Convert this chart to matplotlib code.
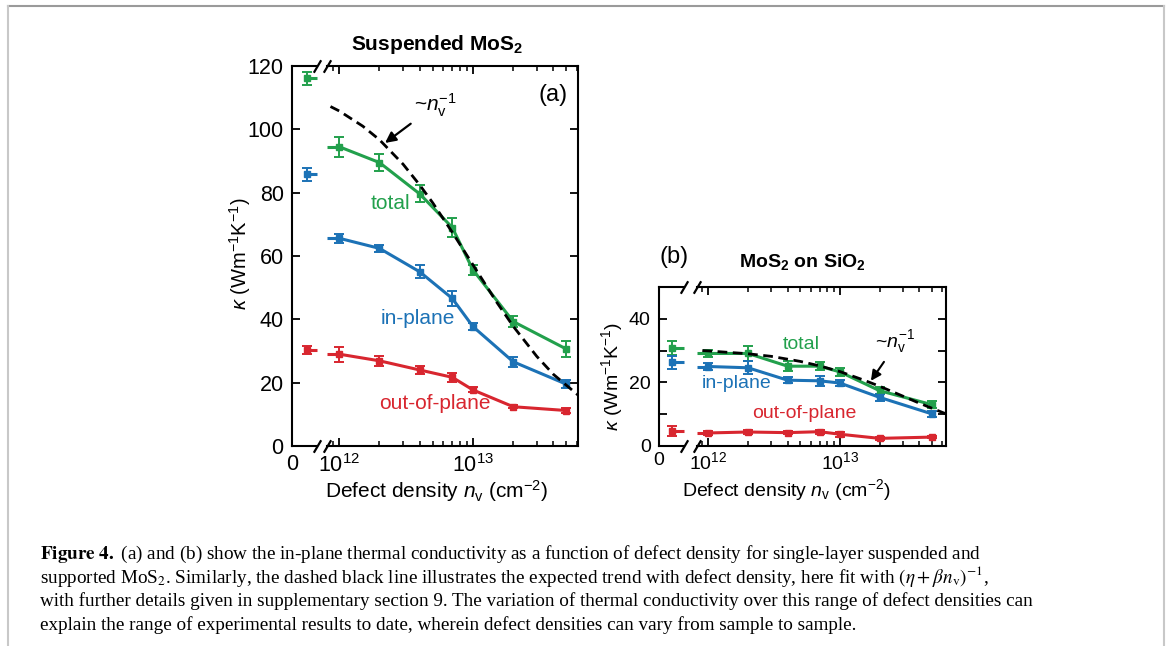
import matplotlib
matplotlib.use('Agg')
import matplotlib.pyplot as plt
from matplotlib.lines import Line2D
from matplotlib.ticker import LogLocator, NullFormatter, LogFormatterMathtext, FixedLocator

plt.rcParams['font.family'] = ['Liberation Sans', 'DejaVu Sans']
plt.rcParams['mathtext.fontset'] = 'custom'
plt.rcParams['mathtext.rm'] = 'Liberation Sans'
plt.rcParams['mathtext.it'] = 'Liberation Sans:italic'
plt.rcParams['mathtext.bf'] = 'Liberation Sans:bold'

# ---- data -------------------------------------------------------------
n_def = [1e12, 2e12, 4e12, 7e12, 1e13, 2e13, 5e13]   # defect density (cm^-2)

# (a) suspended MoS2 ; pristine values are [total, in-plane, out-of-plane]
susp_pristine = [116.1, 85.8, 30.3]
susp_pristine_err = [2.1, 2.1, 1.2]
susp_total = [94.5, 89.5, 79.6, 69.0, 55.6, 39.3, 30.6]
susp_total_err = [3.2, 2.6, 2.7, 3.1, 1.6, 1.7, 2.6]
susp_inplane = [65.6, 62.4, 55.0, 46.6, 37.7, 26.6, 19.5]
susp_inplane_err = [1.5, 1.2, 2.1, 2.3, 1.2, 1.5, 1.3]
susp_outplane = [29.0, 26.9, 24.0, 21.7, 17.7, 12.4, 11.2]
susp_outplane_err = [2.4, 1.5, 1.3, 1.5, 0.8, 0.5, 0.8]
susp_fit_n = [8.6e11, 1e12, 1.5e12, 2e12, 3e12, 4e12, 5e12, 7e12, 1e13, 1.5e13, 2e13, 3e13, 4e13, 6.1e13]
susp_fit_k = [107.2, 105.8, 101.0, 96.7, 89.0, 82.4, 76.8, 67.5, 57.2, 45.5, 37.8, 28.3, 22.6, 16.1]

# (b) MoS2 on SiO2
supp_pristine = [30.9, 26.3, 4.6]
supp_pristine_err = [2.2, 2.0, 1.6]
supp_total = [29.1, 29.1, 25.1, 25.1, 23.3, 17.4, 13.0]
supp_total_err = [1.0, 2.3, 1.5, 1.2, 1.2, 1.0, 1.0]
supp_inplane = [25.0, 24.6, 20.7, 20.5, 19.8, 15.3, 10.1]
supp_inplane_err = [1.0, 2.0, 1.0, 1.5, 0.8, 1.0, 1.0]
supp_outplane = [4.1, 4.4, 4.2, 4.5, 3.7, 2.4, 2.8]
supp_outplane_err = [0.5, 0.5, 0.5, 0.6, 0.8, 0.5, 0.4]
supp_fit_n = [9e11, 1e12, 2e12, 3e12, 4e12, 5e12, 7e12, 1e13, 1.5e13, 2e13, 3e13, 4e13, 6.4e13]
supp_fit_k = [30.0, 29.9, 29.0, 28.2, 27.3, 26.6, 25.2, 23.4, 20.8, 18.8, 15.7, 13.5, 10.1]

series_names = ['total', 'in-plane', 'out-of-plane']
colors = ['#22a04c', '#1c72b6', '#d8262f']

caption = [
    r'$\mathbf{Figure\ 4.}$ (a) and (b) show the in-plane thermal conductivity as a function of defect density for single-layer suspended and',
    r'supported MoS$_2$. Similarly, the dashed black line illustrates the expected trend with defect density, here fit with $(\eta + \beta n_\mathrm{v})^{-1}$,',
    'with further details given in supplementary section 9. The variation of thermal conductivity over this range of defect densities can',
    'explain the range of experimental results to date, wherein defect densities can vary from sample to sample.',
]

W, H = 1170, 646
PRISTINE_X = 1.0


def px_rect(x0, x1, y0, y1):
    return [x0 / W, 1 - y1 / H, (x1 - x0) / W, (y1 - y0) / H]


def draw_panel(fig, box, xlim_log, xlim_lin, ylim, yticks, ylabels, fs,
               pristine, pristine_err, curves, fit_n, fit_k):
    left_l, left_r, right_l, right_r, top, bottom = box
    axl = fig.add_axes(px_rect(left_l, left_r, top, bottom))
    axr = fig.add_axes(px_rect(right_l, right_r, top, bottom))

    for ax in (axl, axr):
        ax.set_ylim(*ylim)
        for s in ax.spines.values():
            s.set_linewidth(1.5)
    axl.spines['right'].set_visible(False)
    axr.spines['left'].set_visible(False)

    # left stub: pristine samples
    axl.set_xlim(*xlim_lin)
    axl.set_xticks([xlim_lin[0]])
    axl.set_xticklabels(['0'])
    axl.tick_params(axis='x', length=0, pad=fs['xpad'], labelsize=fs['tick'])
    axl.yaxis.set_major_locator(FixedLocator(yticks))
    axl.set_yticklabels([str(t) if t in ylabels else '' for t in yticks])
    axl.tick_params(axis='y', direction='in', length=6, width=1.3, pad=6,
                    labelsize=fs['tick'], right=False)

    # right part: log axis
    axr.set_xscale('log')
    axr.set_xlim(*xlim_log)
    axr.xaxis.set_major_locator(LogLocator(base=10))
    axr.xaxis.set_major_formatter(LogFormatterMathtext())
    axr.xaxis.set_minor_locator(LogLocator(base=10, subs=range(2, 10)))
    axr.xaxis.set_minor_formatter(NullFormatter())
    axr.yaxis.set_major_locator(FixedLocator(yticks))
    axr.tick_params(axis='both', which='major', direction='in', length=6, width=1.3,
                    top=True, right=True, left=False, labelleft=False,
                    labelsize=fs['tick'])
    axr.tick_params(axis='x', which='major', pad=fs['xpad'])
    axr.tick_params(axis='x', which='minor', direction='in', length=3.5, width=1.1,
                    top=True)
    axl.tick_params(axis='x', top=False)

    # data
    for i, (vals, errs) in enumerate(curves):
        c = colors[i]
        axl.errorbar([PRISTINE_X], [pristine[i]], yerr=[pristine_err[i]], color=c,
                     marker='s', ms=4.5, elinewidth=1.4, capsize=3.5, capthick=1.4,
                     linestyle='none', clip_on=False, zorder=3)
        axl.plot([PRISTINE_X, xlim_lin[1]], [pristine[i]] * 2, color=c, lw=2.2,
                 clip_on=False, solid_capstyle='butt')
        axr.plot([xlim_log[0], n_def[0]], [vals[0]] * 2, color=c, lw=2.2,
                 solid_capstyle='butt')
        axr.errorbar(n_def, vals, yerr=errs, color=c, marker='s', ms=4.5, lw=2.2,
                     elinewidth=1.4, capsize=3.5, capthick=1.4, zorder=3)

    axr.plot(fit_n, fit_k, color='black', lw=2.0, linestyle=(0, (3.5, 2)), zorder=4)

    # axis break marks
    brk = dict(marker=[(-1, -1.7), (1, 1.7)], markersize=9, linestyle='none',
               color='k', mec='k', mew=1.6, clip_on=False)
    axl.plot([1, 1], [0, 1], transform=axl.transAxes, **brk)
    axr.plot([0, 0], [0, 1], transform=axr.transAxes, **brk)
    return axl, axr


fig = plt.figure(figsize=(W / 100, H / 100), dpi=100)

fs_a = {'tick': 15.5, 'xpad': 6}
axl_a, axr_a = draw_panel(
    fig, (292, 317, 327, 578, 66, 446), (8.1e11, 6.1e13), (0, 1.7), (0, 120),
    [0, 20, 40, 60, 80, 100, 120], [0, 20, 40, 60, 80, 100, 120], fs_a,
    susp_pristine, susp_pristine_err,
    [(susp_total, susp_total_err), (susp_inplane, susp_inplane_err),
     (susp_outplane, susp_outplane_err)],
    susp_fit_n, susp_fit_k)

fs_b = {'tick': 14, 'xpad': 4}
axl_b, axr_b = draw_panel(
    fig, (659, 684, 697, 946, 287, 446), (8.2e11, 6.4e13), (0, 2.0), (0, 50),
    [0, 10, 20, 30, 40], [0, 20, 40], fs_b,
    supp_pristine, supp_pristine_err,
    [(supp_total, supp_total_err), (supp_inplane, supp_inplane_err),
     (supp_outplane, supp_outplane_err)],
    supp_fit_n, supp_fit_k)

# ---- labels panel (a) -------------------------------------------------
fig.text(437 / W, 1 - 45 / H, r'Suspended MoS$_\mathbf{2}$', fontsize=15,
         fontweight='bold', ha='center', va='center')
fig.text(240 / W, 1 - 254 / H, r'$\kappa$ (Wm$^{-1}$K$^{-1}$)', fontsize=14.5,
         rotation=90, ha='center', va='center')
fig.text(437 / W, 1 - 491 / H, r'Defect density $n_\mathrm{v}$ (cm$^{-2}$)',
         fontsize=15, ha='center', va='center')
axr_a.text(0.90, 0.924, '(a)', transform=axr_a.transAxes, fontsize=17,
           ha='center', va='center')
label_pos_a = [(2.4e12, 76.7), (3.9e12, 40.4), (5.2e12, 13.3)]
for (x, y), name, c in zip(label_pos_a, series_names, colors):
    axr_a.text(x, y, name, color=c, fontsize=15, ha='center', va='center')
axr_a.annotate(r'~$n_\mathrm{v}^{-1}$', xy=(2.2e12, 95.7), xytext=(3.6e12, 107.5),
               fontsize=15, ha='left', va='center',
               arrowprops=dict(arrowstyle='-|>', color='k', lw=1.6,
                               mutation_scale=16, shrinkA=2, shrinkB=0))

# ---- labels panel (b) -------------------------------------------------
fig.text(802 / W, 1 - 262 / H, r'MoS$_\mathbf{2}$ on SiO$_\mathbf{2}$', fontsize=14,
         fontweight='bold', ha='center', va='center')
fig.text(674 / W, 1 - 257 / H, '(b)', fontsize=17, ha='center', va='center')
fig.text(612 / W, 1 - 376 / H, r'$\kappa$ (Wm$^{-1}$K$^{-1}$)', fontsize=14,
         rotation=90, ha='center', va='center')
fig.text(786 / W, 1 - 490 / H, r'Defect density $n_\mathrm{v}$ (cm$^{-2}$)',
         fontsize=14, ha='center', va='center')
label_pos_b = [(5.1e12, 31.8), (1.65e12, 19.5), (5.4e12, 10.3)]
for (x, y), name, c in zip(label_pos_b, series_names, colors):
    axr_b.text(x, y, name, color=c, fontsize=14, ha='center', va='center')
axr_b.annotate(r'~$n_\mathrm{v}^{-1}$', xy=(1.72e13, 20.5), xytext=(1.85e13, 33),
               fontsize=14, ha='left', va='center',
               arrowprops=dict(arrowstyle='-|>', color='k', lw=1.5,
                               mutation_scale=15, shrinkA=4, shrinkB=0,
                               relpos=(0.35, 0.0)))

# ---- caption and frame ------------------------------------------------
for i, line in enumerate(caption):
    fig.text(40 / W, 1 - (559 + 23.7 * i) / H, line, fontsize=13.8,
             family=['Liberation Serif', 'DejaVu Serif'], math_fontfamily='stix',
             ha='left', va='baseline')

fig.add_artist(Line2D([8 / W, 1164 / W], [1 - 6 / H, 1 - 6 / H], color='#9a9a9a', lw=1.5))
fig.add_artist(Line2D([8 / W, 8 / W], [0, 1 - 6 / H], color='#c8c8c8', lw=1.5))
fig.add_artist(Line2D([1164 / W, 1164 / W], [0, 1 - 6 / H], color='#c8c8c8', lw=1.5))

fig.savefig('out.png', dpi=100)
